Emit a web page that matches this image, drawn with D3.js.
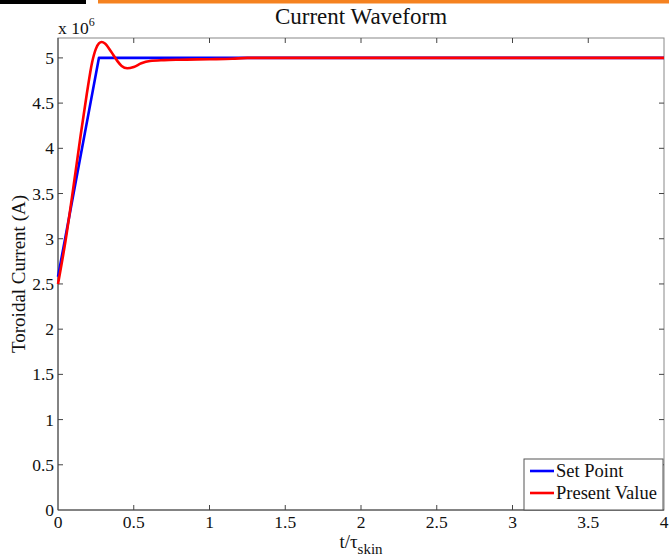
<!DOCTYPE html>
<html>
<head>
<meta charset="utf-8">
<script src="https://cdn.jsdelivr.net/npm/d3@7"></script>
<style>
  html, body { margin: 0; padding: 0; background: #fff; }
  svg { display: block; }
  svg text { font-family: "Liberation Serif", "Times New Roman", serif; }
</style>
</head>
<body>
<svg id="chart" width="669" height="560"></svg>
<script>
// Time axis in units of the skin time, current in units of 1e6 A
const setPointT = [0, 0.27, 4.0];
const setPointI = [2.58, 5.0, 5.0];

const presentT = [0, 0.05, 0.1, 0.15, 0.19, 0.225, 0.25, 0.27, 0.288, 0.31, 0.35, 0.39, 0.42, 0.457, 0.5, 0.55, 0.607, 0.7, 0.8, 1.0, 1.15, 1.25, 4.0];
const presentI = [2.5, 2.98, 3.55, 4.15, 4.6, 4.95, 5.1, 5.16, 5.175, 5.16, 5.07, 4.97, 4.91, 4.885, 4.9, 4.94, 4.965, 4.975, 4.98, 4.985, 4.99, 5.0, 5.0];

const xTicks = [0, 0.5, 1, 1.5, 2, 2.5, 3, 3.5, 4];
const yTicks = [0, 0.5, 1, 1.5, 2, 2.5, 3, 3.5, 4, 4.5, 5];

const seriesNames = ["Set Point", "Present Value"];
const seriesColors = ["#0000ff", "#ff0000"];

const svg = d3.select("#chart");
const m = { left: 58, right: 664, top: 38, bottom: 510 };

const x = d3.scaleLinear().domain([0, 4]).range([m.left, m.right]);
const y = d3.scaleLinear().domain([0, 5.22]).range([m.bottom, m.top]);

// header decoration
svg.append("rect").attr("x", 0).attr("y", 0).attr("width", 86).attr("height", 4).attr("fill", "#000");
svg.append("rect").attr("x", 98).attr("y", 0).attr("width", 571).attr("height", 3.5).attr("fill", "#f58220");

// plot box
const axisColor = "#444";
svg.append("rect")
  .attr("x", m.left).attr("y", m.top)
  .attr("width", m.right - m.left).attr("height", m.bottom - m.top)
  .attr("fill", "none").attr("stroke", "#888").attr("stroke-width", 1);

// inward ticks on all four sides
const tickLen = 5;
const tickG = svg.append("g").attr("stroke", axisColor).attr("stroke-width", 1);
xTicks.forEach(t => {
  if (t === 0 || t === 4) return;
  tickG.append("line").attr("x1", x(t)).attr("x2", x(t)).attr("y1", m.bottom).attr("y2", m.bottom - tickLen);
  tickG.append("line").attr("x1", x(t)).attr("x2", x(t)).attr("y1", m.top).attr("y2", m.top + tickLen);
});
yTicks.forEach(v => {
  if (v === 0) return;
  tickG.append("line").attr("x1", m.left).attr("x2", m.left + tickLen).attr("y1", y(v)).attr("y2", y(v));
  tickG.append("line").attr("x1", m.right).attr("x2", m.right - tickLen).attr("y1", y(v)).attr("y2", y(v));
});
svg.append("line").attr("x1", m.left).attr("x2", m.right).attr("y1", m.bottom).attr("y2", m.bottom)
  .attr("stroke", axisColor);
svg.append("line").attr("x1", m.left).attr("x2", m.left).attr("y1", m.top).attr("y2", m.bottom)
  .attr("stroke", axisColor);

// tick labels
const fmt = d => String(d);
svg.append("g").selectAll("text").data(xTicks).join("text")
  .attr("x", d => x(d)).attr("y", m.bottom + 18)
  .attr("text-anchor", "middle").attr("font-size", 17.5).attr("fill", "#111")
  .text(fmt);
svg.append("g").selectAll("text").data(yTicks).join("text")
  .attr("x", m.left - 4).attr("y", d => y(d) + 6)
  .attr("text-anchor", "end").attr("font-size", 17.5).attr("fill", "#111")
  .text(fmt);

// exponent
const ex = svg.append("text").attr("x", m.left).attr("y", 34).attr("font-size", 17.5).attr("fill", "#111");
ex.append("tspan").text("x 10");
ex.append("tspan").attr("dy", -8).attr("font-size", 12).text("6");

// title and axis labels
svg.append("text").attr("x", (m.left + m.right) / 2).attr("y", 24)
  .attr("text-anchor", "middle").attr("font-size", 23).attr("fill", "#111").text("Current Waveform");

const xl = svg.append("text").attr("x", (m.left + m.right) / 2).attr("y", 548)
  .attr("text-anchor", "middle").attr("font-size", 19).attr("fill", "#111");
xl.append("tspan").text("t/τ");
xl.append("tspan").attr("dy", 6).attr("font-size", 15).text("skin");

svg.append("text")
  .attr("transform", `translate(25, ${(m.top + m.bottom) / 2}) rotate(-90)`)
  .attr("text-anchor", "middle").attr("font-size", 19).attr("fill", "#111")
  .text("Toroidal Current (A)");

// curves
const curves = [d3.curveLinear, d3.curveMonotoneX];
const series = [
  d3.zip(setPointT, setPointI),
  d3.zip(presentT, presentI)
];
series.forEach((s, i) => {
  const line = d3.line().x(d => x(d[0])).y(d => y(d[1])).curve(curves[i]);
  svg.append("path").datum(s)
    .attr("d", line)
    .attr("fill", "none")
    .attr("stroke", seriesColors[i])
    .attr("stroke-width", 2.6)
    .attr("stroke-linejoin", "round");
});

// legend
const lg = svg.append("g");
lg.append("rect").attr("x", 524).attr("y", 459).attr("width", 139).attr("height", 51)
  .attr("fill", "#fff").attr("stroke", "#555").attr("stroke-width", 1);
seriesNames.forEach((name, i) => {
  const yy = 471 + i * 22;
  lg.append("line").attr("x1", 530).attr("x2", 554).attr("y1", yy).attr("y2", yy)
    .attr("stroke", seriesColors[i]).attr("stroke-width", 2.6);
  lg.append("text").attr("x", 556).attr("y", yy + 6).attr("font-size", 18.5).attr("fill", "#111").text(name);
});
</script>
</body>
</html>
